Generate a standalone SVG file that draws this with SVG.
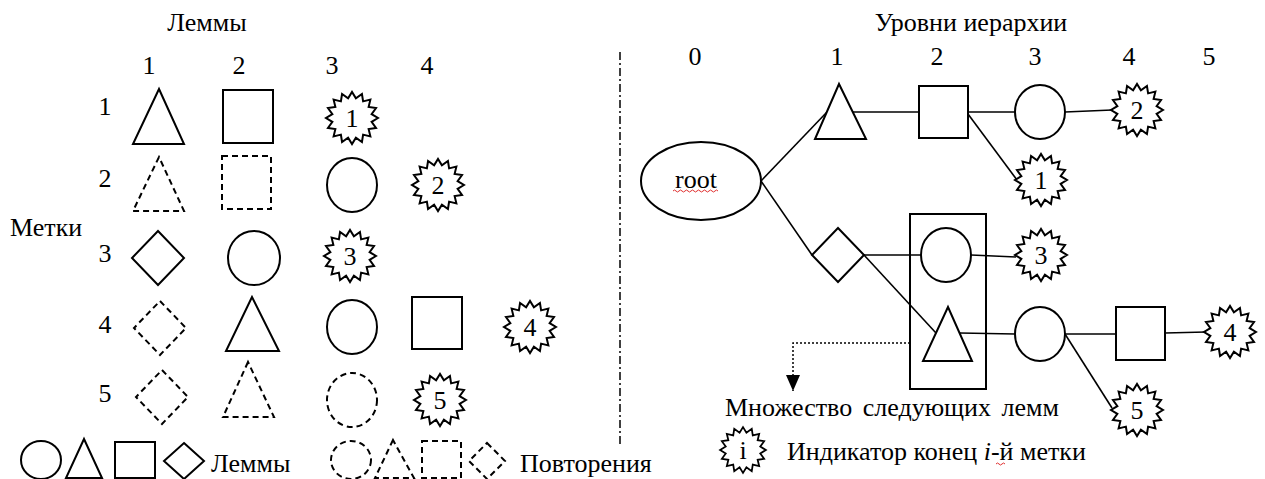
<svg xmlns="http://www.w3.org/2000/svg" width="1265" height="479" viewBox="0 0 1265 479">
<style>
.c{text-anchor:middle}
.s{fill:#fff;stroke:#000;stroke-width:2}
.d{fill:#fff;stroke:#000;stroke-width:2;stroke-dasharray:6 4}
.ln{fill:none;stroke:#000;stroke-width:1.6}
.sq{fill:none;stroke:#e03030;stroke-width:1}
</style>
<defs>
<polygon id="star" class="s" points="26,0 19.62,3.9 24.02,9.95 16.63,11.11 18.38,18.38 11.11,16.63 9.95,24.02 3.9,19.62 0,26 -3.9,19.62 -9.95,24.02 -11.11,16.63 -18.38,18.38 -16.63,11.11 -24.02,9.95 -19.62,3.9 -26,0 -19.62,-3.9 -24.02,-9.95 -16.63,-11.11 -18.38,-18.38 -11.11,-16.63 -9.95,-24.02 -3.9,-19.62 0,-26 3.9,-19.62 9.95,-24.02 11.11,-16.63 18.38,-18.38 16.63,-11.11 24.02,-9.95 19.62,-3.9"/>
<marker id="ah" markerWidth="16" markerHeight="14" refX="16" refY="7" orient="auto" markerUnits="userSpaceOnUse" viewBox="0 0 16 14">
<path d="M0,0 L16,7 L0,14 Z" fill="#000"/>
</marker>
</defs>
<g font-family="Liberation Serif, DejaVu Serif, serif" font-size="26" fill="#000">

<!-- Left panel headers -->
<g id="left-headers">
<text class="c" x="207" y="31">Леммы</text>
<text class="c" x="149" y="74">1</text>
<text class="c" x="239" y="74">2</text>
<text class="c" x="332" y="74">3</text>
<text class="c" x="427" y="74">4</text>
<text class="c" x="105" y="115">1</text>
<text class="c" x="105" y="187">2</text>
<text class="c" x="105" y="262">3</text>
<text class="c" x="105" y="333">4</text>
<text class="c" x="105" y="402">5</text>
<text x="10" y="236">Метки</text>
</g>

<!-- Row 1 -->
<g id="r1-tri"><polygon class="s" points="159,89 133,144 184,144"/></g>
<g id="r1-sq"><rect class="s" x="223" y="90" width="50" height="53"/></g>
<g id="r1-end"><use href="#star" x="352" y="118"/><text class="c" x="352" y="127">1</text></g>
<!-- Row 2 -->
<g id="r2-tri"><polygon class="d" points="159,157 133,211 184,211"/></g>
<g id="r2-sq"><rect class="d" x="222" y="156" width="49" height="53"/></g>
<g id="r2-circ"><ellipse class="s" cx="352" cy="185" rx="25" ry="27"/></g>
<g id="r2-end"><use href="#star" x="438" y="185"/><text class="c" x="438" y="194">2</text></g>
<!-- Row 3 -->
<g id="r3-dia"><polygon class="s" points="158,231 184,258 158,285 132,258"/></g>
<g id="r3-circ"><ellipse class="s" cx="254" cy="258" rx="26" ry="27"/></g>
<g id="r3-end"><use href="#star" x="350" y="256"/><text class="c" x="350" y="265">3</text></g>
<!-- Row 4 -->
<g id="r4-dia"><polygon class="d" points="160,301 186,328 160,355 134,328"/></g>
<g id="r4-tri"><polygon class="s" points="252,297 226,351 279,351"/></g>
<g id="r4-circ"><ellipse class="s" cx="352" cy="327" rx="25" ry="27"/></g>
<g id="r4-sq"><rect class="s" x="412" y="297" width="50" height="52"/></g>
<g id="r4-end"><use href="#star" x="530" y="327"/><text class="c" x="530" y="336">4</text></g>
<!-- Row 5 -->
<g id="r5-dia"><polygon class="d" points="162,370 188,397 162,424 136,397"/></g>
<g id="r5-tri"><polygon class="d" points="248,362 223,417 274,417"/></g>
<g id="r5-circ"><ellipse class="d" cx="352" cy="400" rx="25" ry="27"/></g>
<g id="r5-end"><use href="#star" x="440" y="400"/><text class="c" x="440" y="409">5</text></g>

<!-- Legend -->
<g id="legend-lemmas">
<ellipse class="s" cx="41" cy="460" rx="20" ry="19"/>
<polygon class="s" points="84,439 66,478 102,478"/>
<rect class="s" x="115" y="442" width="40" height="36"/>
<polygon class="s" points="184,443 204,461 184,479 164,461"/>
<text x="211" y="472">Леммы</text>
</g>
<g id="legend-repeats">
<ellipse class="d" cx="351" cy="460" rx="20" ry="19"/>
<polygon class="d" points="393,440 375,478 414,478"/>
<rect class="d" x="422" y="441" width="39" height="37"/>
<polygon class="d" points="487,443 505,461 487,479 469,461"/>
<text x="520" y="472">Повторения</text>
</g>

<!-- Divider -->
<g id="divider"><line x1="620" y1="52" x2="620" y2="445" stroke="#000" stroke-width="1.5" stroke-dasharray="8 3 2 3"/></g>

<!-- Right headers -->
<g id="right-headers">
<text class="c" x="971" y="31">Уровни иерархии</text>
<text class="c" x="695" y="65">0</text>
<text class="c" x="837" y="65">1</text>
<text class="c" x="937" y="65">2</text>
<text class="c" x="1035" y="65">3</text>
<text class="c" x="1129" y="65">4</text>
<text class="c" x="1209" y="65">5</text>
</g>

<!-- Connectors -->
<g id="connectors">
<line class="ln" x1="761" y1="181" x2="827" y2="112"/>
<line class="ln" x1="853" y1="112" x2="919" y2="112"/>
<line class="ln" x1="968" y1="112" x2="1015" y2="112"/>
<line class="ln" x1="1065" y1="112" x2="1112" y2="110"/>
<line class="ln" x1="968" y1="114" x2="1017" y2="180"/>
<line class="ln" x1="761" y1="181" x2="812" y2="255"/>
<line class="ln" x1="864" y1="255" x2="921" y2="255"/>
<line class="ln" x1="864" y1="255" x2="936" y2="333"/>
<line class="ln" x1="971" y1="255" x2="1016" y2="257"/>
<line class="ln" x1="960" y1="333" x2="1015" y2="334"/>
<line class="ln" x1="1065" y1="334" x2="1116" y2="334"/>
<line class="ln" x1="1165" y1="333" x2="1206" y2="332"/>
<line class="ln" x1="1065" y1="334" x2="1112" y2="408"/>
<polyline fill="none" stroke="#000" stroke-width="1.5" stroke-dasharray="2 2" points="910,343 793,343 793,391" marker-end="url(#ah)"/>
</g>

<!-- Right nodes -->
<g id="root"><ellipse class="s" cx="701" cy="181" rx="60" ry="39"/><text class="c" x="696" y="188">root</text>
<path class="sq" d="M673,191 q1.5,-2 3,0 t3,0 t3,0 t3,0 t3,0 t3,0 t3,0 t3,0 t3,0 t3,0 t3,0 t3,0 t3,0 t3,0 t3,0"/></g>
<g id="n1-tri"><polygon class="s" points="839,84 815,139 866,139"/></g>
<g id="n2-sq"><rect class="s" x="919" y="86" width="49" height="52"/></g>
<g id="n3-circ"><ellipse class="s" cx="1040" cy="112" rx="25" ry="27"/></g>
<g id="end2"><use href="#star" x="1137" y="110"/><text class="c" x="1137" y="119">2</text></g>
<g id="end1"><use href="#star" x="1041" y="180"/><text class="c" x="1041" y="189">1</text></g>
<g id="n1-dia"><polygon class="s" points="838,228 864,255 838,282 812,255"/></g>
<g id="next-set"><rect x="910" y="214" width="76" height="175" fill="none" stroke="#000" stroke-width="2"/>
<ellipse class="s" cx="946" cy="255" rx="25" ry="27"/>
<polygon class="s" points="948,307 923,361 972,361"/></g>
<g id="end3"><use href="#star" x="1041" y="255"/><text class="c" x="1041" y="264">3</text></g>
<g id="n3b-circ"><ellipse class="s" cx="1040" cy="334" rx="25" ry="27"/></g>
<g id="n4-sq"><rect class="s" x="1116" y="307" width="49" height="53"/></g>
<g id="end4"><use href="#star" x="1230" y="332"/><text class="c" x="1230" y="341">4</text></g>
<g id="end5"><use href="#star" x="1137" y="410"/><text class="c" x="1137" y="419">5</text></g>

<!-- Right legend -->
<g id="legend-set"><text x="725" y="416" word-spacing="4">Множество следующих лемм</text></g>
<g id="legend-end"><use href="#star" transform="translate(743,450) scale(0.88)"/><text class="c" x="743" y="459">i</text>
<text x="787" y="460">Индикатор конец <tspan font-style="italic">i</tspan>-й метки</text>
<path class="sq" d="M996,464 q1.5,-2 3,0 t3,0 t3,0"/></g>
</g>
</svg>
